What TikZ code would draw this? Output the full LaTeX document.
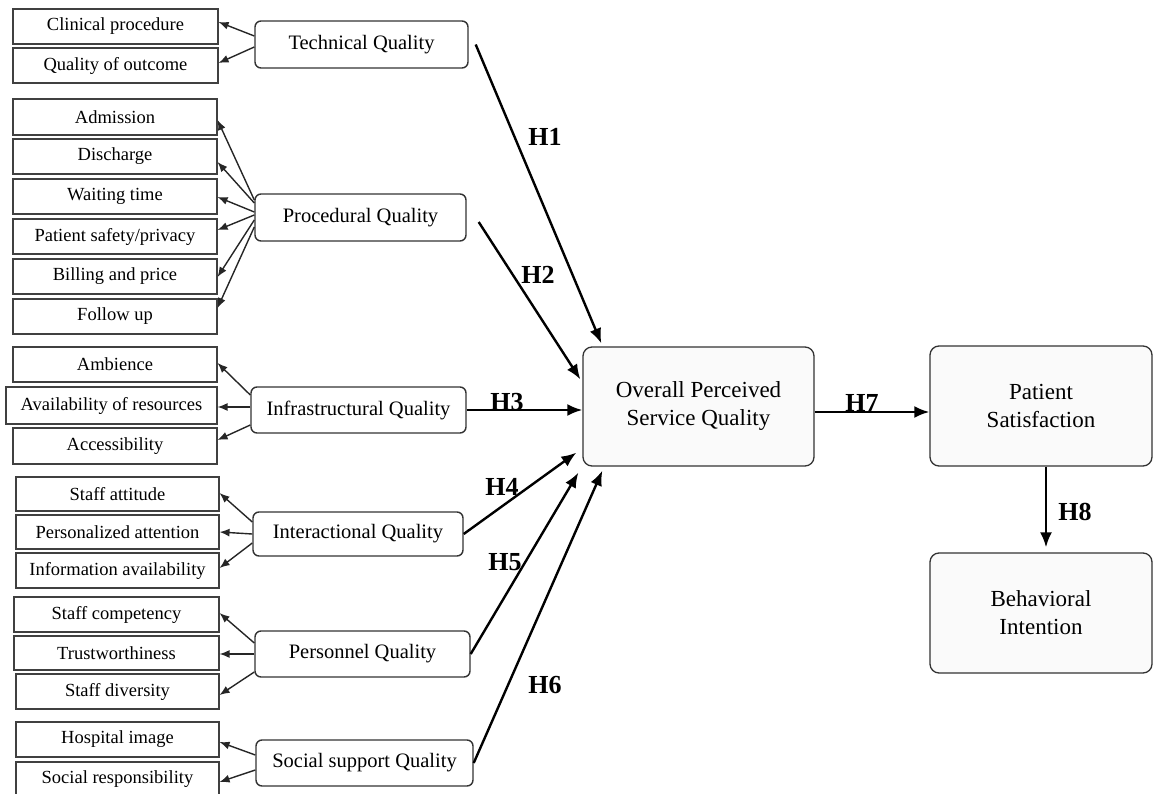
\documentclass[tikz,border=0pt]{standalone}
\usepackage{fontspec}
\setmainfont{Liberation Serif}
\usetikzlibrary{arrows.meta}
\begin{document}
\begin{tikzpicture}[x=1pt,y=-1pt,
  dimbox/.style={draw=black!75, line width=1.1pt, inner sep=0pt, align=center,
    font=\fontsize{18.5}{21}\selectfont},
  qbox/.style={draw=black!80, line width=1.4pt, rounded corners=6pt, inner sep=0pt, align=center,
    font=\fontsize{20.5}{23}\selectfont},
  bigbox/.style={draw=black!80, line width=1.3pt, rounded corners=9pt, fill=black!2, inner sep=0pt,
    align=center, font=\fontsize{23}{28}\selectfont},
  sarr/.style={draw=black!85, line width=1.4pt, -{Latex[length=10pt,width=8pt]}},
  barr/.style={draw=black, line width=2.4pt, -{Latex[length=15pt,width=12pt]}},
  hlab/.style={font=\fontsize{26}{26}\selectfont\bfseries, inner sep=0pt}]
\useasboundingbox (0,0) rectangle (1154,794);
% dimension boxes
\node[dimbox, minimum width=205pt, minimum height=35pt] (cp) at (115.5,26.5) {Clinical procedure};
\node[dimbox, minimum width=205pt, minimum height=35pt] (qo) at (115.5,65.5) {Quality of outcome};
\node[dimbox, minimum width=204pt, minimum height=36pt] (ad) at (115,117) {Admission};
\node[dimbox, minimum width=204pt, minimum height=35pt] (di) at (115,156.5) {Discharge};
\node[dimbox, minimum width=204pt, minimum height=35pt] (wt) at (115,196.5) {Waiting time};
\node[dimbox, minimum width=204pt, minimum height=35pt] (sp) at (115,236.5) {Patient safety/privacy};
\node[dimbox, minimum width=204pt, minimum height=35pt] (bp) at (115,276.5) {Billing and price};
\node[dimbox, minimum width=204pt, minimum height=35pt] (fu) at (115,316.5) {Follow up};
\node[dimbox, minimum width=204pt, minimum height=35pt] (am) at (115,364.5) {Ambience};
\node[dimbox, minimum width=211pt, minimum height=37pt] (av) at (111.5,405.5) {Availability of resources};
\node[dimbox, minimum width=204pt, minimum height=36pt] (ac) at (115,446) {Accessibility};
\node[dimbox, minimum width=203pt, minimum height=34pt] (sa) at (117.5,494) {Staff attitude};
\node[dimbox, minimum width=203pt, minimum height=34pt] (pa) at (117.5,532) {Personalized attention};
\node[dimbox, minimum width=203pt, minimum height=35pt] (ia) at (117.5,570.5) {Information availability};
\node[dimbox, minimum width=205pt, minimum height=35pt] (sc) at (116.5,614.5) {Staff competency};
\node[dimbox, minimum width=205pt, minimum height=34pt] (tw) at (116.5,653) {Trustworthiness};
\node[dimbox, minimum width=203pt, minimum height=35pt] (sd) at (117.5,691.5) {Staff diversity};
\node[dimbox, minimum width=203pt, minimum height=35pt] (hi) at (117.5,739.5) {Hospital image};
\node[dimbox, minimum width=203pt, minimum height=35pt] (sr) at (117.5,779.5) {Social responsibility};
% quality boxes
\node[qbox, minimum width=213pt, minimum height=47pt] (tq) at (361.5,44.5) {Technical Quality};
\node[qbox, minimum width=211pt, minimum height=47pt] (pq) at (360.5,217.5) {Procedural Quality};
\node[qbox, minimum width=215pt, minimum height=46pt] (iq) at (358.5,410) {Infrastructural Quality};
\node[qbox, minimum width=210pt, minimum height=44pt] (ic) at (358,534) {Interactional Quality};
\node[qbox, minimum width=215pt, minimum height=46pt] (pn) at (362.5,654) {Personnel Quality};
\node[qbox, minimum width=217pt, minimum height=46pt] (ss) at (364.5,763) {Social support Quality};
% big boxes
\node[bigbox, minimum width=231pt, minimum height=119pt] (op) at (698.5,406.5) {Overall Perceived\\Service Quality};
\node[bigbox, minimum width=222pt, minimum height=120pt] (pt) at (1041,406) {Patient\\Satisfaction};
\node[bigbox, minimum width=222pt, minimum height=120pt] (bi) at (1041,613) {Behavioral\\Intention};
% small arrows
\draw[sarr] ([yshift=8.5pt]tq.west) -- ([yshift=4.5pt]cp.east);
\draw[sarr] ([yshift=-2.5pt]tq.west) -- ([yshift=2.5pt]qo.east);
\draw[sarr] ([yshift=17.5pt]pq.west) -- ([yshift=-3pt]ad.east);
\draw[sarr] ([yshift=14.5pt]pq.west) -- ([yshift=-5.5pt]di.east);
\draw[sarr] ([yshift=5.5pt]pq.west) -- ([yshift=-0.5pt]wt.east);
\draw[sarr] ([yshift=2.5pt]pq.west) -- ([yshift=6.5pt]sp.east);
\draw[sarr] ([yshift=-2.5pt]pq.west) -- ([yshift=-0.5pt]bp.east);
\draw[sarr] ([yshift=-9.5pt]pq.west) -- ([yshift=8.5pt]fu.east);
\draw[sarr] ([yshift=15pt]iq.west) -- ([yshift=1.5pt]am.east);
\draw[sarr] ([yshift=3pt]iq.west) -- ([yshift=-1.5pt]av.east);
\draw[sarr] ([yshift=-15pt]iq.west) -- ([yshift=6pt]ac.east);
\draw[sarr] ([yshift=12pt]ic.west) -- ([yshift=1pt]sa.east);
\draw[sarr] (ic.west) -- (pa.east);
\draw[sarr] ([yshift=-9pt]ic.west) -- ([yshift=2.5pt]ia.east);
\draw[sarr] ([yshift=11pt]pn.west) -- ([yshift=1.5pt]sc.east);
\draw[sarr] (pn.west) -- ([yshift=-1pt]tw.east);
\draw[sarr] ([yshift=-18pt]pn.west) -- ([yshift=-3.5pt]sd.east);
\draw[sarr] ([yshift=8pt]ss.west) -- ([yshift=-2.5pt]hi.east);
\draw[sarr] ([yshift=-7pt]ss.west) -- ([yshift=-2.5pt]sr.east);
% hypothesis arrows
\draw[barr] ([xshift=7pt]tq.east) -- ([xshift=19pt,yshift=3pt]op.north west);
\draw[barr] ([xshift=12pt,yshift=-4.5pt]pq.east) -- ([xshift=-2pt,yshift=-33pt]op.north west);
\draw[barr] (iq.east) -- (op.west |- iq.east);
\draw[barr] (ic.east) -- ([xshift=-6pt,yshift=14pt]op.south west);
\draw[barr] (pn.east) -- ([xshift=-4pt,yshift=-6pt]op.south west);
\draw[barr] (ss.east) -- ([xshift=20pt,yshift=-4pt]op.south west);
\draw[barr] (op.east |- 0,412) -- (pt.west |- 0,412);
\draw[barr, shorten >=5pt] ([xshift=5pt]pt.south) -- ([xshift=5pt]bi.north);
% labels
\node[hlab] (h1) at (545,137) {H1};
\node[hlab] (h2) at (538,275) {H2};
\node[hlab] (h3) at (507,402) {H3};
\node[hlab] (h4) at (502,487) {H4};
\node[hlab] (h5) at (505,562) {H5};
\node[hlab] (h6) at (545,685) {H6};
\node[hlab] (h7) at (862,403) {H7};
\node[hlab] (h8) at (1075,512) {H8};
\end{tikzpicture}
\end{document}
